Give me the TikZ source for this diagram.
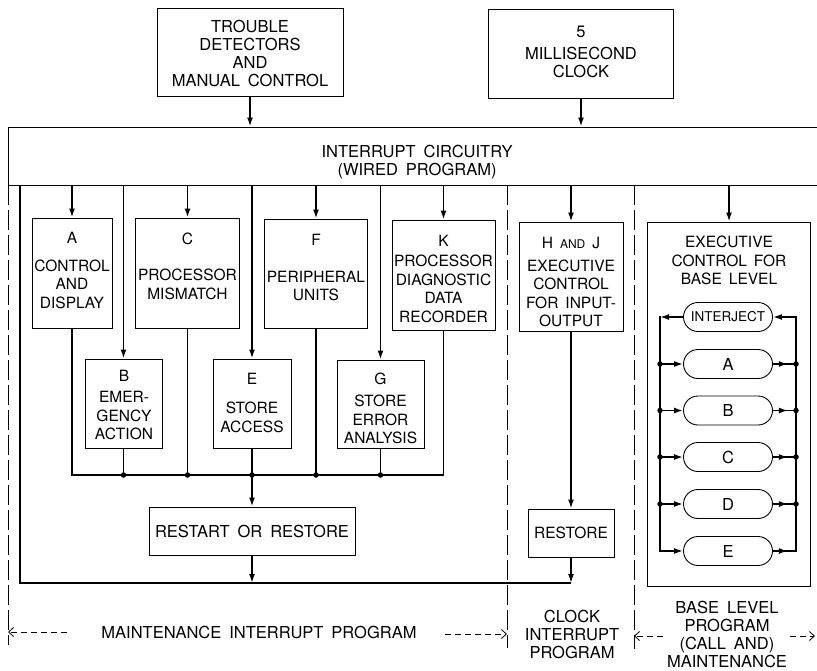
\documentclass[tikz,border=0pt]{standalone}
\usepackage{fontspec}
\setmainfont{TeX Gyre Heros}
\usetikzlibrary{arrows.meta,shapes.misc,calc}
\newcommand\fbig{\fontsize{16.5}{18}\selectfont\spaceskip=8pt\relax}
\newcommand\fmid{\fontsize{15.5}{18.5}\selectfont\spaceskip=7pt\relax}
\newcommand\fsml{\fontsize{13.5}{15}\selectfont}
\begin{document}
\begin{tikzpicture}[x=1pt,y=-1pt,
  box/.style={draw, line width=0.9pt, inner sep=0pt, rectangle},
  txt/.style={inner sep=0pt, align=center, font=\fmid},
  bigtxt/.style={inner sep=0pt, align=center, font=\fbig},
  conn/.style={line width=1.7pt},
  arr/.style={conn, -{Latex[length=9pt,width=6pt]}},
  jdot/.style={circle, fill, inner sep=0pt, minimum size=5.5pt},
  sepline/.style={line width=0.8pt, dash pattern=on 20pt off 5pt},
  darr/.style={line width=0.8pt, dash pattern=on 6pt off 4pt, -{Straight Barb[length=5pt,width=9pt]}},
  pill/.style={draw, line width=0.9pt, rounded rectangle, minimum width=89pt, minimum height=29pt, inner sep=0pt}]
\useasboundingbox (0,0) rectangle (817,670);

% top boxes
\node[box, minimum width=186pt, minimum height=88pt] (trb) at (250,52) {};
\node[bigtxt, anchor=north] (trbt) at (250,20) {TROUBLE\\DETECTORS\\AND\\MANUAL CONTROL};
\node[box, minimum width=185pt, minimum height=89pt] (clk) at (581,53.5) {};
\node[bigtxt, anchor=north] (clkt) at (581,26) {5\\[4pt]MILLISECOND\\CLOCK};

% interrupt circuitry
\node[box, minimum width=812pt, minimum height=58pt] (intr) at (414,156) {};
\node[bigtxt, anchor=north] (intrt) at (417,145) {INTERRUPT CIRCUITRY\\(WIRED PROGRAM)};
\draw[arr] (trb.south) -- (trb.south |- intr.north);
\draw[arr] (clk.south) -- (clk.south |- intr.north);

% maintenance boxes
\node[box, minimum width=80pt, minimum height=110pt] (bA) at (72,273) {};
\node[txt, anchor=north] (tA) at (72,232) {A\\[9pt]CONTROL\\AND\\DISPLAY};
\node[box, minimum width=77pt, minimum height=89pt] (bB) at (123.5,403.5) {};
\node[txt, anchor=north] (tB) at (124,370) {B\\[2.5pt]EMER-\\GENCY\\ACTION};
\node[box, minimum width=104pt, minimum height=110pt] (bC) at (187.5,273) {};
\node[txt, anchor=north] (tC) at (187.5,233) {C\\[17.5pt]PROCESSOR\\MISMATCH};
\node[box, minimum width=78pt, minimum height=89pt] (bE) at (252,403.5) {};
\node[txt, anchor=north] (tE) at (252,373) {E\\[10.5pt]STORE\\ACCESS};
\node[box, minimum width=103pt, minimum height=109pt] (bF) at (316,273.5) {};
\node[txt, anchor=north] (tF) at (316,234) {F\\[18pt]PERIPHERAL\\UNITS};
\node[box, minimum width=87pt, minimum height=88pt] (bG) at (380.5,404) {};
\node[txt, anchor=north] (tG) at (380.5,373) {G\\[3.5pt]STORE\\ERROR\\ANALYSIS};
\node[box, minimum width=103pt, minimum height=110pt] (bK) at (443.5,275) {};
\node[txt, anchor=north] (tK) at (443.5,235) {K\\[1.5pt]PROCESSOR\\DIAGNOSTIC\\DATA\\RECORDER};

\foreach \n in {bA,bB,bC,bE,bF,bG,bK}
  \draw[arr] (\n.north |- intr.south) -- (\n.north);

% bus
\coordinate (bus) at (0,475);
\draw[conn] (bA.south) -- (bA.south |- bus) -- (bK.south |- bus) -- (bK.south);
\foreach \n in {bB,bC,bE,bF,bG} {
  \draw[conn] (\n.south) -- (\n.south |- bus);
  \node[jdot] (d\n) at (\n.south |- bus) {};
}

% restart
\node[box, minimum width=206pt, minimum height=48pt, font=\fbig] (rs) at (252,531) {RESTART OR RESTORE};
\draw[arr] (bE.south |- bus) -- (rs.north);

% clock interrupt program
\node[box, minimum width=104pt, minimum height=109pt] (bHJ) at (571,276.5) {};
\node[txt, anchor=north] (tHJ) at (571,237) {H {\fontsize{12}{14}\selectfont AND} J\\[4pt]EXECUTIVE\\CONTROL\\FOR INPUT-\\OUTPUT};
\draw[arr] (bHJ.north |- intr.south) -- (bHJ.north);
\node[box, minimum width=86pt, minimum height=48pt, font=\fmid] (rt) at (571,533) {RESTORE};
\draw[arr] (bHJ.south) -- (rt.north);

% return line
\coordinate (ret) at (20,583);
\draw[conn] (intr.south -| ret) -- (ret) -- (rt.south |- ret);
\draw[arr] (rs.south) -- (rs.south |- ret);
\draw[arr] (rt.south) -- (rt.south |- ret);

% executive control for base level
\node[box, minimum width=163pt, minimum height=364pt] (ex) at (729,404) {};
\node[txt, anchor=north] (ext) at (729,236) {EXECUTIVE\\CONTROL FOR\\BASE LEVEL};
\draw[arr] (ex.north |- intr.south) -- (ex.north);

\node[pill, font=\fsml] (pI) at (728,317) {INTERJECT};
\node[pill, font=\fbig] (pA) at (728,364) {A};
\node[pill, font=\fbig] (pB) at (728,410.5) {B};
\node[pill, font=\fbig] (pC) at (728,457) {C};
\node[pill, font=\fbig] (pD) at (728,504) {D};
\node[pill, font=\fbig] (pE) at (728,551) {E};
\coordinate (Lb) at (660,0);
\coordinate (Rb) at (796,0);

\draw[arr] (pI.west) -- (pI.west -| Lb);
\draw[conn, line cap=rect, -{Latex[length=9pt,width=6pt]}] (pI.west -| Lb) -- (pE.west -| Lb) -- (pE.west);
\draw[conn, line cap=rect, -{Latex[length=9pt,width=6pt]}] (pE.east -| Rb) -- (pI.east -| Rb) -- (pI.east);
\draw[conn] (pE.east) -- (pE.east -| Rb);
\draw[arr] (pE.east) -- ($(pE.east)!0.65!(pE.east -| Rb)$);
\foreach \p in {pA,pB,pC,pD} {
  \draw[arr] (\p.west -| Lb) -- (\p.west);
  \draw[conn] (\p.east) -- (\p.east -| Rb);
  \draw[arr] (\p.east) -- ($(\p.east)!0.65!(\p.east -| Rb)$);
  \node[jdot] (l\p) at (\p.west -| Lb) {};
  \node[jdot] (r\p) at (\p.east -| Rb) {};
}

% separators
\coordinate (s1a) at (8,185);   \coordinate (s1b) at (8,645);
\coordinate (s2a) at (507,185); \coordinate (s2b) at (507,648);
\coordinate (s3a) at (634,185); \coordinate (s3b) at (634,649);
\draw[sepline] (s1a) -- (s1b);
\draw[sepline] (s2a) -- (s2b);
\draw[sepline] (s3a) -- (s3b);

% bottom labels
\node[bigtxt, anchor=base] (lm) at (259,638) {MAINTENANCE INTERRUPT PROGRAM};
\coordinate (m1) at (67,632);  \coordinate (m1e) at (8,632);
\coordinate (m2) at (445,634); \coordinate (m2e) at (507,634);
\draw[darr] (m1) -- (m1e);
\draw[darr] (m2) -- (m2e);
\node[bigtxt, anchor=north] (lc) at (572,610) {CLOCK\\INTERRUPT\\PROGRAM};
\node[bigtxt, anchor=north] (lb) at (727,601) {BASE LEVEL\\PROGRAM\\(CALL AND)\\MAINTENANCE};
\coordinate (b1) at (663,636); \coordinate (b1e) at (634,636);
\coordinate (b2) at (790,636); \coordinate (b2e) at (815,636);
\draw[darr] (b1) -- (b1e);
\draw[darr] (b2) -- (b2e);
\end{tikzpicture}
\end{document}
